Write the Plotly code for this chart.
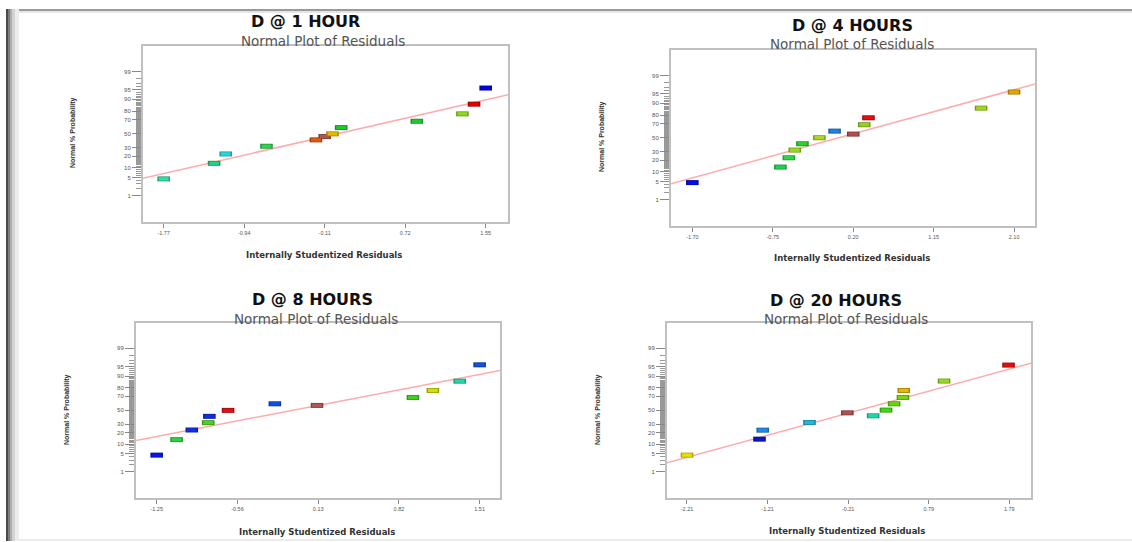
import plotly.graph_objects as go
from statistics import NormalDist

W, H = 1132, 542
nd = NormalDist()


def z(p):
    return nd.inv_cdf(p / 100.0)


# ---------------- data ----------------
titles = ["D @ 1 HOUR", "D @ 4 HOURS", "D @ 8 HOURS", "D @ 20 HOURS"]
subtitle = "Normal Plot of Residuals"
x_title = "Internally Studentized Residuals"
y_title = "Normal % Probability"

prob_ticks = [1, 5, 10, 20, 30, 50, 70, 80, 90, 95, 99]
prob_tick_text = ["1", "5", "10", "20", "30", "50", "70", "80", "90", "95", "99"]
prob_minor = [p for p in range(2, 99) if p not in prob_ticks]

h1_resid = [-1.77, -1.25, -1.13, -0.71, -0.20, -0.11, -0.03, 0.06, 0.84, 1.31, 1.43, 1.55]
h1_prob = [4.5, 13.3, 22.3, 31.8, 40.7, 45.6, 49.6, 58.9, 67.8, 77.0, 86.5, 95.6]
h1_colors = ["#2ee0a0", "#22d07a", "#20d8e0", "#30d050", "#e05a10", "#b05555",
             "#e8b800", "#20c830", "#20c830", "#90d820", "#e00000", "#0000e0"]
h1_xticks = [-1.77, -0.94, -0.11, 0.72, 1.55]
h1_line_x = [-2.0, 1.8]
h1_line_prob = [4.6, 92.9]

h4_resid = [-1.70, -0.66, -0.56, -0.49, -0.40, -0.20, -0.02, 0.20, 0.33, 0.38, 1.71, 2.10]
h4_prob = [4.6, 13.5, 22.5, 32.0, 40.9, 49.8, 59.6, 55.2, 68.5, 77.1, 86.5, 95.6]
h4_colors = ["#0010e0", "#20d050", "#30d848", "#a0d820", "#30d030", "#a8d820",
             "#2080e0", "#b05050", "#98d020", "#e01010", "#a0d820", "#e0a800"]
h4_xticks = [-1.70, -0.75, 0.20, 1.15, 2.10]
h4_line_x = [-2.0, 2.4]
h4_line_prob = [3.85, 98.0]

h8_resid = [-1.25, -1.08, -0.95, -0.81, -0.80, -0.64, -0.24, 0.12, 0.94, 1.11, 1.34, 1.51]
h8_prob = [4.5, 13.3, 22.7, 31.8, 40.7, 49.6, 59.4, 57.0, 68.3, 77.0, 86.2, 95.6]
h8_colors = ["#0818e0", "#30d040", "#1030e0", "#50d020", "#1030e0", "#e01010",
             "#1050e0", "#b05858", "#40d020", "#d0e000", "#20d8a8", "#1050e8"]
h8_xticks = [-1.25, -0.56, 0.13, 0.82, 1.51]
h8_line_x = [-1.45, 1.7]
h8_line_prob = [12.3, 93.4]

h20_resid = [-2.21, -1.31, -1.27, -0.69, -0.22, 0.10, 0.26, 0.36, 0.47, 0.48, 0.98, 1.78]
h20_prob = [4.5, 13.7, 22.5, 32.1, 45.9, 41.5, 50.0, 59.4, 68.3, 77.0, 86.3, 95.5]
h20_colors = ["#e8e000", "#0818c8", "#2088e8", "#20b8e0", "#b05050", "#20d8b0",
              "#40d810", "#60d810", "#78d810", "#e8b800", "#98d820", "#e01010"]
h20_xticks = [-2.21, -1.21, -0.21, 0.79, 1.79]
h20_line_x = [-2.5, 2.1]
h20_line_prob = [2.2, 96.4]

# ---------------- layout geometry (pixels) ----------------
panels = [
    dict(resid=h1_resid, prob=h1_prob, colors=h1_colors, xticks=h1_xticks,
         lx=h1_line_x, lp=h1_line_prob, xr=[-1.983, 1.780],
         box=(143, 508, 46, 222), title=(305, 21.5), sub=(323, 40.5), xt=(324, 255), yt=(73, 133)),
    dict(resid=h4_resid, prob=h4_prob, colors=h4_colors, xticks=h4_xticks,
         lx=h4_line_x, lp=h4_line_prob, xr=[-1.952, 2.347],
         box=(671, 1035, 50, 226), title=(852, 25.5), sub=(852, 44.5), xt=(852, 258), yt=(602, 137)),
    dict(resid=h8_resid, prob=h8_prob, colors=h8_colors, xticks=h8_xticks,
         lx=h8_line_x, lp=h8_line_prob, xr=[-1.427, 1.684],
         box=(136, 500, 323, 498), title=(312, 299.5), sub=(316, 318.5), xt=(317, 532), yt=(67, 410)),
    dict(resid=h20_resid, prob=h20_prob, colors=h20_colors, xticks=h20_xticks,
         lx=h20_line_x, lp=h20_line_prob, xr=[-2.458, 2.059],
         box=(667, 1031, 323, 498), title=(836, 300.5), sub=(846, 318.5), xt=(847, 531), yt=(598, 410)),
]


def px(x):
    return x / W


def py(y):
    return 1 - y / H


def darker(hexc, f=0.72):
    r, g, b = int(hexc[1:3], 16), int(hexc[3:5], 16), int(hexc[5:7], 16)
    return "rgb(%d,%d,%d)" % (r * f, g * f, b * f)


fig = go.Figure()
annotations = []
layout_axes = {}

for i, p in enumerate(panels):
    n = i + 1
    xa = "x" if n == 1 else "x%d" % n
    ya = "y" if n == 1 else "y%d" % n
    # fitted line
    fig.add_trace(go.Scatter(
        x=p["lx"], y=[z(v) for v in p["lp"]], xaxis=xa, yaxis=ya, mode="lines",
        line=dict(color="#ffaaaa", width=1.5), hoverinfo="skip", showlegend=False))
    zs = [z(v) for v in p["prob"]]
    # point outlines
    fig.add_trace(go.Scatter(
        x=p["resid"], y=zs, xaxis=xa, yaxis=ya, mode="markers",
        marker=dict(symbol="line-ew", size=9,
                    line=dict(color=[darker(c) for c in p["colors"]], width=5)),
        hoverinfo="skip", showlegend=False))
    # point fills
    fig.add_trace(go.Scatter(
        x=p["resid"], y=zs, xaxis=xa, yaxis=ya, mode="markers",
        marker=dict(symbol="line-ew", size=7,
                    line=dict(color=p["colors"], width=3.4)),
        showlegend=False))

    x0, x1, y0, y1 = p["box"]
    key = "" if n == 1 else str(n)
    layout_axes["xaxis" + key] = dict(
        domain=[px(x0), px(x1)], anchor=ya, range=p["xr"],
        tickmode="array", tickvals=p["xticks"], ticktext=["%.2f" % v for v in p["xticks"]],
        ticks="outside", ticklen=4, tickcolor="#888", tickwidth=1,
        tickfont=dict(family="Liberation Sans", size=5.5, color="#555"),
        showgrid=False, zeroline=False, showline=True, mirror=True,
        linecolor="#c0c0c0", linewidth=2)
    layout_axes["yaxis" + key] = dict(
        domain=[py(y1), py(y0)], anchor=xa, range=[-3.31, 3.28],
        tickmode="array", tickvals=[z(v) for v in prob_ticks], ticktext=prob_tick_text,
        ticks="outside", ticklen=9, tickcolor="#888", tickwidth=1,
        tickfont=dict(family="Liberation Sans", size=6, color="#555"),
        minor=dict(tickmode="array", tickvals=[z(v) for v in prob_minor],
                   ticks="outside", ticklen=5, tickcolor="#999", tickwidth=1, showgrid=False),
        showgrid=False, zeroline=False, showline=True, mirror=True,
        linecolor="#c0c0c0", linewidth=2)

    annotations.append(dict(text="<b>%s</b>" % titles[i], x=px(p["title"][0]), y=py(p["title"][1]),
                            xref="paper", yref="paper", showarrow=False, xanchor="center", yanchor="middle",
                            font=dict(family="DejaVu Sans", size=16, color="#111")))
    annotations.append(dict(text=subtitle, x=px(p["sub"][0]), y=py(p["sub"][1]),
                            xref="paper", yref="paper", showarrow=False, xanchor="center", yanchor="middle",
                            font=dict(family="DejaVu Sans", size=13.5, color="#555")))
    annotations.append(dict(text="<b>%s</b>" % x_title, x=px(p["xt"][0]), y=py(p["xt"][1]),
                            xref="paper", yref="paper", showarrow=False, xanchor="center", yanchor="middle",
                            font=dict(family="DejaVu Sans", size=8.5, color="#333")))
    annotations.append(dict(text="<b>%s</b>" % y_title, x=px(p["yt"][0]), y=py(p["yt"][1]),
                            xref="paper", yref="paper", showarrow=False, xanchor="center", yanchor="middle",
                            textangle=-90, font=dict(family="Liberation Sans", size=7, color="#333")))

# page frame (top rule, left shadow, faint bottom rule)
shapes = [
    dict(type="rect", xref="paper", yref="paper", x0=px(6), x1=1, y0=py(11), y1=py(9),
         fillcolor="#9a9a9a", line=dict(width=0), layer="below"),
    dict(type="rect", xref="paper", yref="paper", x0=px(6), x1=1, y0=py(13), y1=py(11),
         fillcolor="#e6e6e6", line=dict(width=0), layer="below"),
    dict(type="rect", xref="paper", yref="paper", x0=px(6), x1=1, y0=py(541), y1=py(539),
         fillcolor="#ececec", line=dict(width=0), layer="below"),
]
for (a, b, c) in [(6, 8, "#4a4a4a"), (8, 10, "#7c7c7c"), (10, 12, "#adadad"),
                  (12, 15, "#d2d2d2"), (15, 19, "#ececec")]:
    shapes.append(dict(type="rect", xref="paper", yref="paper", x0=px(a), x1=px(b),
                       y0=py(541), y1=py(9), fillcolor=c, line=dict(width=0), layer="below"))

fig.update_layout(
    width=W, height=H, margin=dict(l=0, r=0, t=0, b=0),
    paper_bgcolor="white", plot_bgcolor="white",
    showlegend=False, annotations=annotations, shapes=shapes,
    **layout_axes)

fig.write_html("out.html")
